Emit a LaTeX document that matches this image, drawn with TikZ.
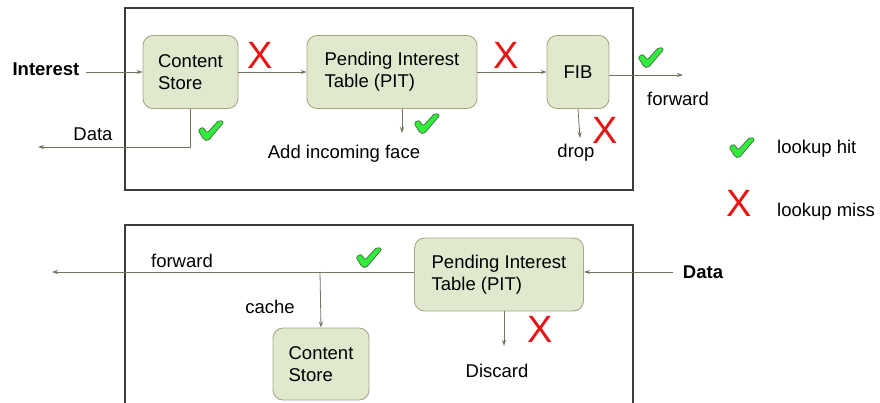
\documentclass[tikz,border=0pt]{standalone}
\usepackage{fontspec}
\setmainfont{Liberation Sans}
\usetikzlibrary{arrows.meta}
\definecolor{boxfill}{RGB}{224,232,206}
\definecolor{boxline}{RGB}{168,166,136}
\definecolor{arrcol}{RGB}{120,112,96}
\definecolor{outer}{RGB}{60,60,60}
\definecolor{chkfill}{RGB}{50,235,60}
\definecolor{chkline}{RGB}{70,110,70}
\definecolor{xred}{RGB}{232,20,20}
\begin{document}
\begin{tikzpicture}[x=1pt,y=-1pt,
  txt/.style={font=\fontsize{18.5}{22}\selectfont, inner sep=0pt},
  blk/.style={draw=boxline, fill=boxfill, rounded corners=10pt, line width=0.9pt,
    font=\fontsize{18.5}{22}\selectfont, align=left, inner sep=0pt},
  frame/.style={draw=outer, line width=1.1pt},
  arr/.style={draw=arrcol, line width=0.8pt, -{Stealth[length=6pt,width=4pt]}},
  xmark/.style={text=xred, font=\fontsize{38}{38}\selectfont, inner sep=0pt},
  chk/.pic={\filldraw[fill=chkfill, draw=chkline, line width=0.7pt, rounded corners=2pt]
    (-13,0) -- (-8,-3) -- (-4,3) -- (8,-10) -- (13,-8) -- (-3,11) -- (-7,10) -- cycle;}
]
\useasboundingbox (0,0) rectangle (880,402);
\begin{scope}
\clip (0,0) rectangle (880,402);

% ---------- top frame ----------
\node[frame, minimum width=508pt, minimum height=182pt, inner sep=0pt] (topframe) at (379,99) {};
\node[blk, minimum width=95pt, minimum height=73pt] (cs) at (190.5,72) {Content\\Store};
\node[blk, minimum width=170pt, minimum height=73pt] (pit) at (392,72) {Pending Interest\\Table (PIT)};
\node[blk, minimum width=62pt, minimum height=73pt] (fib) at (578,72) {FIB};

\node[txt, font=\fontsize{18.5}{22}\selectfont\bfseries, anchor=base] (int) at (46,75) {Interest};
\draw[arr] ([xshift=6pt]int.east |- cs.west) -- (cs.west);
\draw[arr] (cs.east) -- (pit.west);
\draw[arr] (pit.east) -- (fib.west);

\coordinate (fwdend) at (683,75);
\draw[arr] (fib.east |- fwdend) -- (fwdend);
\node[txt, anchor=base] (fwdtxt) at (678,105) {forward};

\coordinate (dataend) at (38,147);
\draw[arr, rounded corners=0pt] (cs.south) |- (dataend);
\node[txt, anchor=base] (datatxt) at (93,140) {Data};

\coordinate (aifend) at (402,133);
\draw[arr] (aifend |- pit.south) -- (aifend);
\node[txt, anchor=base] (aif) at (344,158) {Add incoming face};

\coordinate (dropend) at (580,138);
\draw[arr] (fib.south) -- (dropend);
\node[txt, anchor=base] (drop) at (576,157) {drop};

\node[xmark] (x1) at (260,55) {X};
\node[xmark] (x2) at (506,55) {X};
\node[xmark] (x3) at (605,130) {X};
\pic at (211,130) {chk};
\pic at (427,123) {chk};
\pic at (651,57) {chk};

% ---------- legend ----------
\pic at (742,147) {chk};
\node[txt, anchor=base west] (hit) at (777,153) {lookup hit};
\node[xmark] (xl) at (739.5,203) {X};
\node[txt, anchor=base west] (miss) at (777,216.5) {lookup miss};

% ---------- bottom frame ----------
\node[frame, minimum width=508pt, minimum height=200pt, inner sep=0pt] (botframe) at (379,325) {};
\node[blk, minimum width=169pt, minimum height=73pt] (pit2) at (499,274.5) {Pending Interest\\Table (PIT)};
\node[blk, minimum width=96pt, minimum height=72pt] (cs2) at (321,364) {Content\\Store};

\node[txt, font=\fontsize{18.5}{22}\selectfont\bfseries, anchor=base] (data2) at (703,278) {Data};
\coordinate (dstart) at (673,272);
\draw[arr] (dstart) -- (dstart -| pit2.east);

\coordinate (fwd2end) at (52,272);
\draw[arr] (pit2.west |- fwd2end) -- (fwd2end);
\node[txt, anchor=base] (fwd2) at (182,267) {forward};

\coordinate (cachetop) at (320,272);
\draw[arr] (cachetop) -- (cs2.north);
\node[txt, anchor=base] (cache) at (270,313) {cache};

\coordinate (discend) at (504,346);
\draw[arr] (discend |- pit2.south) -- (discend);
\node[txt, anchor=base] (disc) at (497,377) {Discard};

\node[xmark] (x4) at (540,329) {X};
\pic at (369,257) {chk};
\end{scope}
\end{tikzpicture}
\end{document}
